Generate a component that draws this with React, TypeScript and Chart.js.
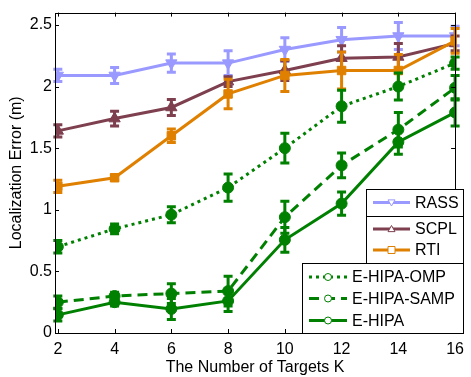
import React, { useEffect, useRef } from 'react';
import { Chart, registerables } from 'chart.js';
Chart.register(...registerables);

const xValues = [2, 4, 6, 8, 10, 12, 14, 16];
const xTicks = [2, 4, 6, 8, 10, 12, 14, 16];
const yTicks = [0, 0.5, 1, 1.5, 2, 2.5];

const rass = [2.09, 2.09, 2.19, 2.19, 2.30, 2.38, 2.41, 2.41];
const rassErr = [0.05, 0.065, 0.075, 0.1, 0.095, 0.1, 0.11, 0.08];
const scpl = [1.64, 1.74, 1.83, 2.04, 2.13, 2.23, 2.24, 2.35];
const scplErr = [0.05, 0.06, 0.065, 0.04, 0.08, 0.1, 0.11, 0.06];
const rti = [1.19, 1.26, 1.60, 1.94, 2.09, 2.13, 2.13, 2.37];
const rtiErr = [0.05, 0.02, 0.055, 0.12, 0.13, 0.15, 0.13, 0.1];
const omp = [0.70, 0.845, 0.96, 1.18, 1.50, 1.84, 2.00, 2.19];
const ompErr = [0.05, 0.04, 0.065, 0.11, 0.12, 0.13, 0.11, 0.05];
const samp = [0.25, 0.30, 0.32, 0.34, 0.94, 1.36, 1.65, 1.99];
const sampErr = [0.05, 0.03, 0.08, 0.12, 0.13, 0.1, 0.14, 0.1];
const ehipa = [0.147, 0.25, 0.195, 0.26, 0.756, 1.05, 1.55, 1.79];
const ehipaErr = [0.05, 0.03, 0.085, 0.085, 0.1, 0.095, 0.1, 0.11];

const C_RASS = '#9999FF';
const C_SCPL = '#7E3F4F';
const C_RTI = '#E08000';
const C_GREEN = '#008000';

const FONT = '"Liberation Sans", Arial, sans-serif';

type Series = {
  label: string; values: number[]; errors: number[]; color: string;
  style: string; rotation: number; radius: number; dash: number[];
};

const series: Series[] = [
  { label: 'E-HIPA-OMP', values: omp, errors: ompErr, color: C_GREEN, style: 'circle', rotation: 0, radius: 5.5, dash: [3, 4] },
  { label: 'E-HIPA-SAMP', values: samp, errors: sampErr, color: C_GREEN, style: 'circle', rotation: 0, radius: 5.5, dash: [10, 6] },
  { label: 'E-HIPA', values: ehipa, errors: ehipaErr, color: C_GREEN, style: 'circle', rotation: 0, radius: 5.5, dash: [] },
  { label: 'RTI', values: rti, errors: rtiErr, color: C_RTI, style: 'rect', rotation: 0, radius: 6, dash: [] },
  { label: 'SCPL', values: scpl, errors: scplErr, color: C_SCPL, style: 'triangle', rotation: 0, radius: 6.5, dash: [] },
  { label: 'RASS', values: rass, errors: rassErr, color: C_RASS, style: 'triangle', rotation: 180, radius: 6.5, dash: [] },
];

function drawMarker(ctx: CanvasRenderingContext2D, style: string, rot: number, x: number, y: number, r: number) {
  ctx.beginPath();
  if (style === 'circle') {
    ctx.arc(x, y, r, 0, Math.PI * 2);
  } else if (style === 'rect') {
    ctx.rect(x - r, y - r, 2 * r, 2 * r);
  } else {
    const s = rot === 180 ? -1 : 1;
    ctx.moveTo(x, y - s * r);
    ctx.lineTo(x - r, y + s * r * 0.75);
    ctx.lineTo(x + r, y + s * r * 0.75);
    ctx.closePath();
  }
  ctx.fill();
  ctx.stroke();
}

const errorBarPlugin = {
  id: 'errorBars',
  afterDatasetDraw(chart: any, args: any) {
    const i = args.index;
    const s = series[i];
    const ctx = chart.ctx;
    const xs = chart.scales.x;
    const ys = chart.scales.y;
    ctx.save();
    ctx.strokeStyle = s.color;
    ctx.lineWidth = 3;
    ctx.setLineDash([]);
    s.values.forEach((v, k) => {
      const px = xs.getPixelForValue(xValues[k]);
      const top = ys.getPixelForValue(v + s.errors[k]);
      const bot = ys.getPixelForValue(v - s.errors[k]);
      ctx.beginPath();
      ctx.moveTo(px, top); ctx.lineTo(px, bot);
      ctx.moveTo(px - 4.5, top); ctx.lineTo(px + 4.5, top);
      ctx.moveTo(px - 4.5, bot); ctx.lineTo(px + 4.5, bot);
      ctx.stroke();
    });
    ctx.restore();
  },
};

const framePlugin = {
  id: 'frame',
  afterDraw(chart: any) {
    const ctx = chart.ctx;
    const { left, right, top, bottom } = chart.chartArea;
    const xs = chart.scales.x;
    const ys = chart.scales.y;
    ctx.save();
    ctx.strokeStyle = '#000';
    ctx.lineWidth = 1;
    ctx.setLineDash([]);
    ctx.beginPath();
    xTicks.forEach((t) => {
      const px = Math.round(xs.getPixelForValue(t)) + 0.5;
      ctx.moveTo(px, bottom); ctx.lineTo(px, bottom - 4);
      ctx.moveTo(px, top); ctx.lineTo(px, top + 4);
    });
    yTicks.forEach((t) => {
      const py = Math.round(ys.getPixelForValue(t)) + 0.5;
      ctx.moveTo(left, py); ctx.lineTo(left + 4, py);
      ctx.moveTo(right, py); ctx.lineTo(right - 4, py);
    });
    ctx.stroke();
    ctx.strokeRect(Math.round(left) + 0.5, Math.round(top) + 0.5, Math.round(right - left), Math.round(bottom - top));

    // legend boxes
    const boxes = [
      { x: 366, y: 189, w: 97, h: 27, items: [{ s: series[5], y: 202.5 }], lx0: 373, lx1: 410, tx: 415 },
      { x: 366, y: 216, w: 97, h: 47, items: [{ s: series[4], y: 229 }, { s: series[3], y: 250 }], lx0: 373, lx1: 410, tx: 415 },
      { x: 302, y: 263, w: 161, h: 70, items: [{ s: series[0], y: 277 }, { s: series[1], y: 298.5 }, { s: series[2], y: 320.5 }], lx0: 309, lx1: 347, tx: 352 },
    ];
    ctx.font = `16px ${FONT}`;
    ctx.textBaseline = 'middle';
    ctx.textAlign = 'left';
    boxes.forEach((b) => {
      ctx.fillStyle = '#fff';
      ctx.fillRect(b.x, b.y, b.w, b.h);
      ctx.strokeStyle = '#000';
      ctx.lineWidth = 1;
      ctx.setLineDash([]);
      ctx.strokeRect(b.x + 0.5, b.y + 0.5, b.w, b.h);
      b.items.forEach((it) => {
        ctx.strokeStyle = it.s.color;
        ctx.lineWidth = 3;
        ctx.setLineDash(it.s.dash);
        ctx.beginPath();
        ctx.moveTo(b.lx0, it.y); ctx.lineTo(b.lx1, it.y);
        ctx.stroke();
        ctx.setLineDash([]);
        ctx.lineWidth = 1;
        ctx.fillStyle = '#fff';
        drawMarker(ctx, it.s.style, it.s.rotation, (b.lx0 + b.lx1) / 2, it.y, 3.5);
        ctx.fillStyle = '#000';
        ctx.fillText(it.s.label, b.tx, it.y + 1);
      });
    });
    ctx.restore();
  },
};

export default function App() {
  const ref = useRef<HTMLCanvasElement>(null);
  useEffect(() => {
    document.body.style.margin = '0';
    const canvas = ref.current!;
    const chart = new Chart(canvas, {
      type: 'line',
      data: {
        datasets: series.map((s) => ({
          label: s.label,
          data: s.values.map((v, k) => ({ x: xValues[k], y: v })),
          borderColor: s.color,
          backgroundColor: s.color,
          borderWidth: 3,
          borderDash: s.dash,
          pointStyle: s.style as any,
          pointRotation: s.rotation,
          pointRadius: s.radius,
          pointBorderWidth: 1,
          pointBackgroundColor: s.color,
          pointBorderColor: s.color,
          tension: 0,
          fill: false,
        })),
      },
      options: {
        responsive: false,
        animation: false,
        devicePixelRatio: 1,
        layout: { padding: { top: 8, right: 8, left: 0, bottom: 0 } },
        plugins: { legend: { display: false }, tooltip: { enabled: false } },
        scales: {
          x: {
            type: 'linear',
            min: 1.9,
            max: 16,
            grid: { display: false, drawTicks: false },
            border: { display: false },
            afterBuildTicks: (s: any) => { s.ticks = xTicks.map((v) => ({ value: v })); },
            afterFit: (s: any) => { s.height = 44; },
            ticks: { color: '#000', font: { size: 16, family: FONT }, padding: 7, maxRotation: 0, callback: (v: any) => String(v) },
            title: { display: true, text: 'The Number of Targets K', color: '#000', font: { size: 16, family: FONT }, padding: { top: 0, bottom: 0 } },
          },
          y: {
            type: 'linear',
            min: 0,
            max: 2.6,
            grid: { display: false, drawTicks: false },
            border: { display: false },
            afterBuildTicks: (s: any) => { s.ticks = yTicks.map((v) => ({ value: v })); },
            afterFit: (s: any) => { s.width = 55; },
            ticks: { color: '#000', font: { size: 16, family: FONT }, padding: 3, callback: (v: any) => String(v) },
            title: { display: true, text: 'Localization Error (m)', color: '#000', font: { size: 16, family: FONT }, padding: { top: 7, bottom: 0 } },
          },
        },
      },
      plugins: [errorBarPlugin, framePlugin],
    });
    return () => chart.destroy();
  }, []);
  return (
    <div style={{ width: 471, height: 377 }}>
      <canvas ref={ref} width={471} height={377} />
    </div>
  );
}
